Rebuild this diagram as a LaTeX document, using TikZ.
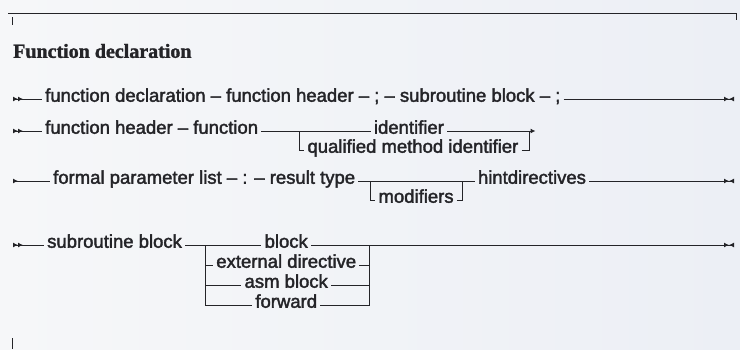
\documentclass[tikz,border=0pt]{standalone}
\usepackage{fontspec}
\setmainfont{Liberation Serif}
\setsansfont{Liberation Sans}[FakeBold=2]
\newfontfamily\ttlfont{Liberation Serif}[FakeBold=1.5]
\usetikzlibrary{arrows.meta,calc}
\definecolor{bgl}{RGB}{246,247,249}
\definecolor{bgr}{RGB}{236,239,245}
\definecolor{ink}{RGB}{36,36,40}
\begin{document}
\begin{tikzpicture}[x=1pt,y=-1pt,
  lbl/.style={font=\sffamily\fontsize{18.5}{18.5}\selectfont, text=ink, inner xsep=3pt, inner ysep=0pt,
              text height=0.75em, text depth=0.2em, anchor=west},
  ttl/.style={font=\ttlfont\bfseries\fontsize{20}{20}\selectfont, text=ink, inner sep=0pt, anchor=west},
  wire/.style={draw=ink, line width=1pt},
  begintwo/.style={wire, {Latex[reversed,length=5pt,width=5pt]Latex[reversed,length=5pt,width=5pt]}-},
  beginone/.style={wire, {Latex[reversed,length=5pt,width=5pt]}-},
  finish/.style={wire, -{Latex[length=5pt,width=5pt]Latex[reversed,length=5pt,width=5pt]}},
  cont/.style={wire, -{Latex[length=5pt,width=5pt]}}]
\shade[left color=bgl, right color=bgr] (0,0) rectangle (740,349);
\useasboundingbox (0,0) rectangle (740,349);
% frame marks
\coordinate (fa) at (8,13);
\coordinate (fb) at (736,13);
\draw[wire] (fa) -- (fb);
\coordinate (fc) at (12,17);
\coordinate (fd) at (12,25);
\draw[wire] (fc) -- (fd);
\coordinate (fe) at (736,13);
\coordinate (ff) at (736,20);
\draw[wire] (fe) -- (ff);
\coordinate (fg) at (12,338);
\coordinate (fh) at (12,349);
\draw[wire] (fg) -- (fh);
% title
\node[ttl] (title) at (13,51) {Function declaration};
% row 1
\coordinate (r1s) at (13,99);
\node[lbl] (r1t) at (42,99) {function declaration – function header – ; – subroutine block – ;};
\coordinate (r1e) at (734,99);
\draw[begintwo] (r1s) -- (r1t.west);
\draw[finish] (r1t.east) -- (r1e);
% row 2
\coordinate (r2s) at (13,131);
\node[lbl] (r2t) at (42,131) {function header – function};
\coordinate (j2a) at ($(r2t.east)+(38,0)$);
\node[lbl] (r2q) at ($(j2a)+(5,19)$) {qualified method identifier};
\path let \p1=(r2q.east), \p2=(j2a) in coordinate (j2b) at (\x1+8pt,\y2);
\node[lbl,anchor=center] (r2i) at ($(r2q.center |- j2a)+(-4,0)$) {identifier};
\coordinate (r2e) at ($(j2b)+(6,0)$);
\draw[begintwo] (r2s) -- (r2t.west);
\draw[wire] (r2t.east) -- (r2i.west);
\draw[cont] (r2i.east) -- (r2e);
\draw[wire] (j2a) |- (r2q.west);
\draw[wire] (r2q.east) -| (j2b);
% row 3
\coordinate (r3s) at (13,181);
\node[lbl] (r3t) at (50,181) {formal parameter list – : – result type};
\coordinate (j3a) at ($(r3t.east)+(12,0)$);
\node[lbl] (r3m) at ($(j3a)+(5,19)$) {modifiers};
\path let \p1=(r3m.east), \p2=(j3a) in coordinate (j3b) at (\x1+6pt,\y2);
\node[lbl] (r3h) at ($(j3b)+(12,0)$) {hintdirectives};
\coordinate (r3e) at (734,181);
\draw[beginone] (r3s) -- (r3t.west);
\draw[wire] (r3t.east) -- (r3h.west);
\draw[wire] (j3a) |- (r3m.west);
\draw[wire] (r3m.east) -| (j3b);
\draw[finish] (r3h.east) -- (r3e);
% row 4
\coordinate (r4s) at (13,245);
\node[lbl] (r4t) at (44,245) {subroutine block};
\coordinate (j4a) at ($(r4t.east)+(20,0)$);
\node[lbl] (ext) at ($(j4a)+(8,20)$) {external directive};
\path let \p1=(ext.east), \p2=(j4a) in coordinate (j4b) at (\x1+10pt,\y2);
\node[lbl,anchor=center] (blk) at (ext.center |- j4a) {block};
\node[lbl,anchor=center] (asm) at ($(ext.center)+(0,20)$) {asm block};
\node[lbl,anchor=center] (fwd) at ($(ext.center)+(0,40)$) {forward};
\coordinate (r4e) at (734,245);
\draw[begintwo] (r4s) -- (r4t.west);
\draw[wire] (r4t.east) -- (blk.west);
\draw[finish] (blk.east) -- (r4e);
\draw[wire] (j4a) |- (fwd.west);
\draw[wire] (j4a |- ext.west) -- (ext.west);
\draw[wire] (j4a |- asm.west) -- (asm.west);
\draw[wire] (ext.east) -- (j4b |- ext.east);
\draw[wire] (asm.east) -- (j4b |- asm.east);
\draw[wire] (fwd.east) -| (j4b);
\end{tikzpicture}
\end{document}
